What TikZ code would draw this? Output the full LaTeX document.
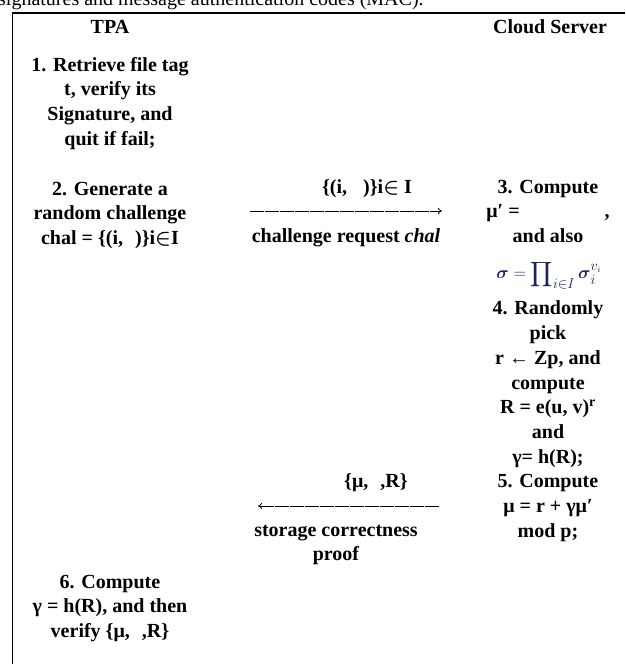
\documentclass[tikz,border=0pt]{standalone}
\usepackage{amsmath}
\usepackage{fontspec}
\setmainfont{Liberation Serif}
\usetikzlibrary{arrows.meta}
\definecolor{formula}{RGB}{28,36,96}

\begin{document}
\begin{tikzpicture}[x=1pt,y=-1pt,
		cell/.style={align=center,inner sep=0pt,anchor=north,font=\fontsize{20}{24.7}\selectfont\bfseries},
		msg/.style={line width=0.8pt,dash pattern=on 14pt off 1pt,-{To[length=4pt,width=6pt]}}]
	\useasboundingbox (0,0) rectangle (625,664);
	\clip (0,0) rectangle (625,664);
	\node[anchor=base west,inner sep=0pt,font=\fontsize{20}{24}\selectfont] (caption) at (-2,5.5) {signatures and message authentication codes (MAC).};
	\draw[line width=1.8pt] (625,13) -- (12.5,13) -- (12.5,664);
	\node[cell] (tpa) at (110,15.7) {\strut TPA};
	\node[cell] (cloud) at (550,15.7) {\strut Cloud Server};
	\node[cell] (retrieve) at (110,53.7) {\strut 1. Retrieve file tag\\ t, verify its\\ Signature, and\\ quit if fail;};
	\node[cell] (generate) at (110,177.7) {\strut 2. Generate a\\ random challenge\\ chal = \{(i,\hspace{12pt})\}i$\boldsymbol{\in}$I};
	\node[cell] (chalset) at (367,175.7) {\strut \{(i,\hspace{16pt})\}i$\boldsymbol{\in}$ I};
	\node[cell] (chalname) at (346,224.7) {\strut challenge request \textit{chal}};
	\node[cell] (compute) at (548,175.7) {\strut 3. Compute\\ μ′ = \hspace{80pt},\\ and also};
	\node[text=formula,inner sep=0pt,font=\fontsize{19}{23}\selectfont] (sigma) at (549,275) {$\displaystyle\boldsymbol{\sigma}=\prod\nolimits_{i\in I}\boldsymbol{\sigma}_i^{v_i}$};
	\node[cell] (pick) at (548,297.5) {\strut 4. Randomly\\ pick\\ r ← Zp, and\\ compute\\ R = e(u, v)\textsuperscript{r}\\ and\\ γ= h(R);\\ 5. Compute\\ μ = r + γμ′\\ mod p;};
	\node[cell] (proofset) at (376,469.7) {\strut \{μ,\hspace{12pt},R\}};
	\node[cell] (proofname) at (336,518.7) {\strut storage correctness\\ proof};
	\node[cell] (verify) at (110,570.7) {\strut 6. Compute\\ γ = h(R), and then\\ verify \{μ,\hspace{12pt},R\}};
	\coordinate (chalL) at (250,211);
	\coordinate (chalR) at (442,211);
	\coordinate (proofR) at (439,506);
	\coordinate (proofL) at (258,506);
	\draw[msg] (chalL) -- (chalR);
	\draw[msg] (proofR) -- (proofL);
\end{tikzpicture}
\end{document}
